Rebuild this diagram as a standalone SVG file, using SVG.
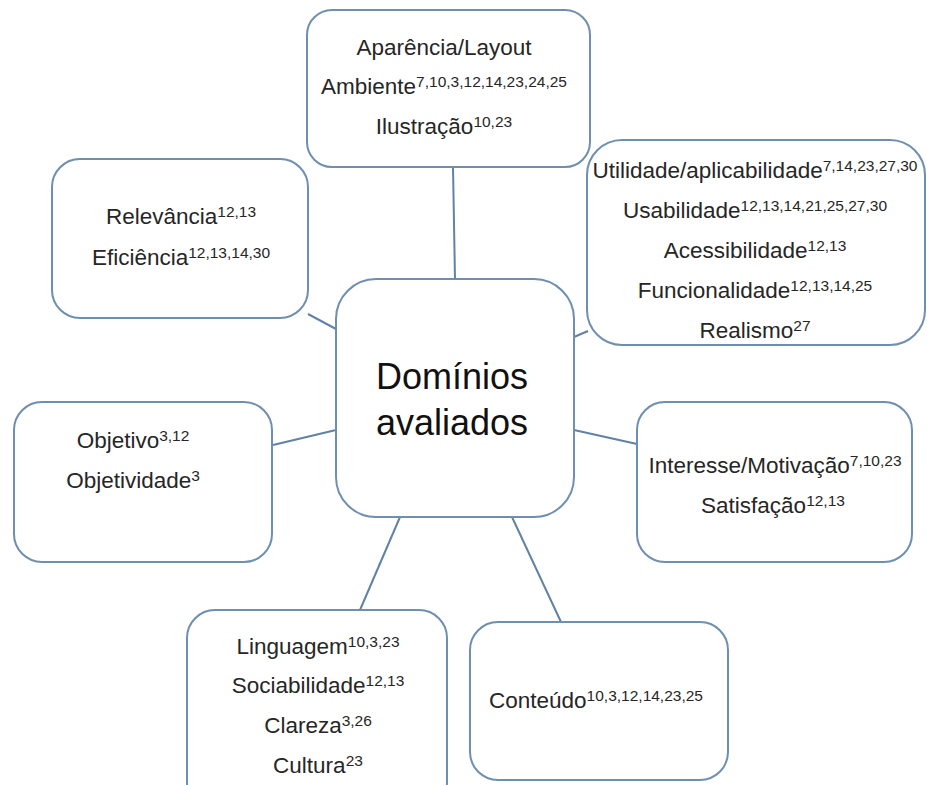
<svg xmlns="http://www.w3.org/2000/svg" width="927" height="785" viewBox="0 0 927 785">
<style>
.box{fill:#fff;stroke:#6f8fb0;stroke-width:2}
.ln{stroke:#5f82a5;stroke-width:2;fill:none}
text{font-family:"Liberation Sans",Arial,sans-serif;font-size:22.5px;fill:#262626;text-anchor:middle}
.s{font-size:15.5px}
.t{font-size:36px;fill:#111}
</style>
<rect width="927" height="785" fill="#fff"/>
<g id="connectors">
<line class="ln" x1="453" y1="167" x2="455" y2="279"/>
<line class="ln" x1="308" y1="314" x2="336" y2="329"/>
<line class="ln" x1="574" y1="337" x2="588" y2="331"/>
<line class="ln" x1="273" y1="445" x2="336" y2="430"/>
<line class="ln" x1="574" y1="430" x2="637" y2="444"/>
<line class="ln" x1="400" y1="517" x2="360" y2="610"/>
<line class="ln" x1="512" y1="517" x2="561" y2="622"/>
</g>
<g id="center">
<rect class="box" x="336" y="279" width="238" height="238" rx="40"/>
<text class="t" x="452" y="389">Domínios</text>
<text class="t" x="452" y="435">avaliados</text>
</g>
<g id="aparencia">
<rect class="box" x="307" y="10" width="283" height="157" rx="25"/>
<text x="444" y="55">Aparência/Layout</text>
<text x="444" y="94">Ambiente<tspan class="s" dy="-7">7,10,3,12,14,23,24,25</tspan></text>
<text x="444" y="134">Ilustração<tspan class="s" dy="-7">10,23</tspan></text>
</g>
<g id="relevancia">
<rect class="box" x="52" y="159" width="256" height="159" rx="28"/>
<text x="181" y="224">Relevância<tspan class="s" dy="-7">12,13</tspan></text>
<text x="181" y="265">Eficiência<tspan class="s" dy="-7">12,13,14,30</tspan></text>
</g>
<g id="utilidade">
<rect class="box" x="587" y="140" width="338" height="205" rx="35"/>
<text x="755" y="178">Utilidade/aplicabilidade<tspan class="s" dy="-7">7,14,23,27,30</tspan></text>
<text x="755" y="218">Usabilidade<tspan class="s" dy="-7">12,13,14,21,25,27,30</tspan></text>
<text x="755" y="258">Acessibilidade<tspan class="s" dy="-7">12,13</tspan></text>
<text x="755" y="298">Funcionalidade<tspan class="s" dy="-7">12,13,14,25</tspan></text>
<text x="755" y="338">Realismo<tspan class="s" dy="-7">27</tspan></text>
</g>
<g id="objetivo">
<rect class="box" x="14" y="402" width="258" height="160" rx="28"/>
<text x="133" y="448">Objetivo<tspan class="s" dy="-7">3,12</tspan></text>
<text x="133" y="488">Objetividade<tspan class="s" dy="-7">3</tspan></text>
</g>
<g id="interesse">
<rect class="box" x="637" y="402" width="275" height="160" rx="28"/>
<text x="775" y="473">Interesse/Motivação<tspan class="s" dy="-7">7,10,23</tspan></text>
<text x="773" y="513">Satisfação<tspan class="s" dy="-7">12,13</tspan></text>
</g>
<g id="linguagem">
<rect class="box" x="187" y="610" width="260" height="200" rx="28"/>
<text x="318" y="654">Linguagem<tspan class="s" dy="-7">10,3,23</tspan></text>
<text x="318" y="693">Sociabilidade<tspan class="s" dy="-7">12,13</tspan></text>
<text x="318" y="733">Clareza<tspan class="s" dy="-7">3,26</tspan></text>
<text x="318" y="773">Cultura<tspan class="s" dy="-7">23</tspan></text>
</g>
<g id="conteudo">
<rect class="box" x="470" y="622" width="258" height="158" rx="28"/>
<text x="596" y="708">Conteúdo<tspan class="s" dy="-7">10,3,12,14,23,25</tspan></text>
</g>
</svg>
